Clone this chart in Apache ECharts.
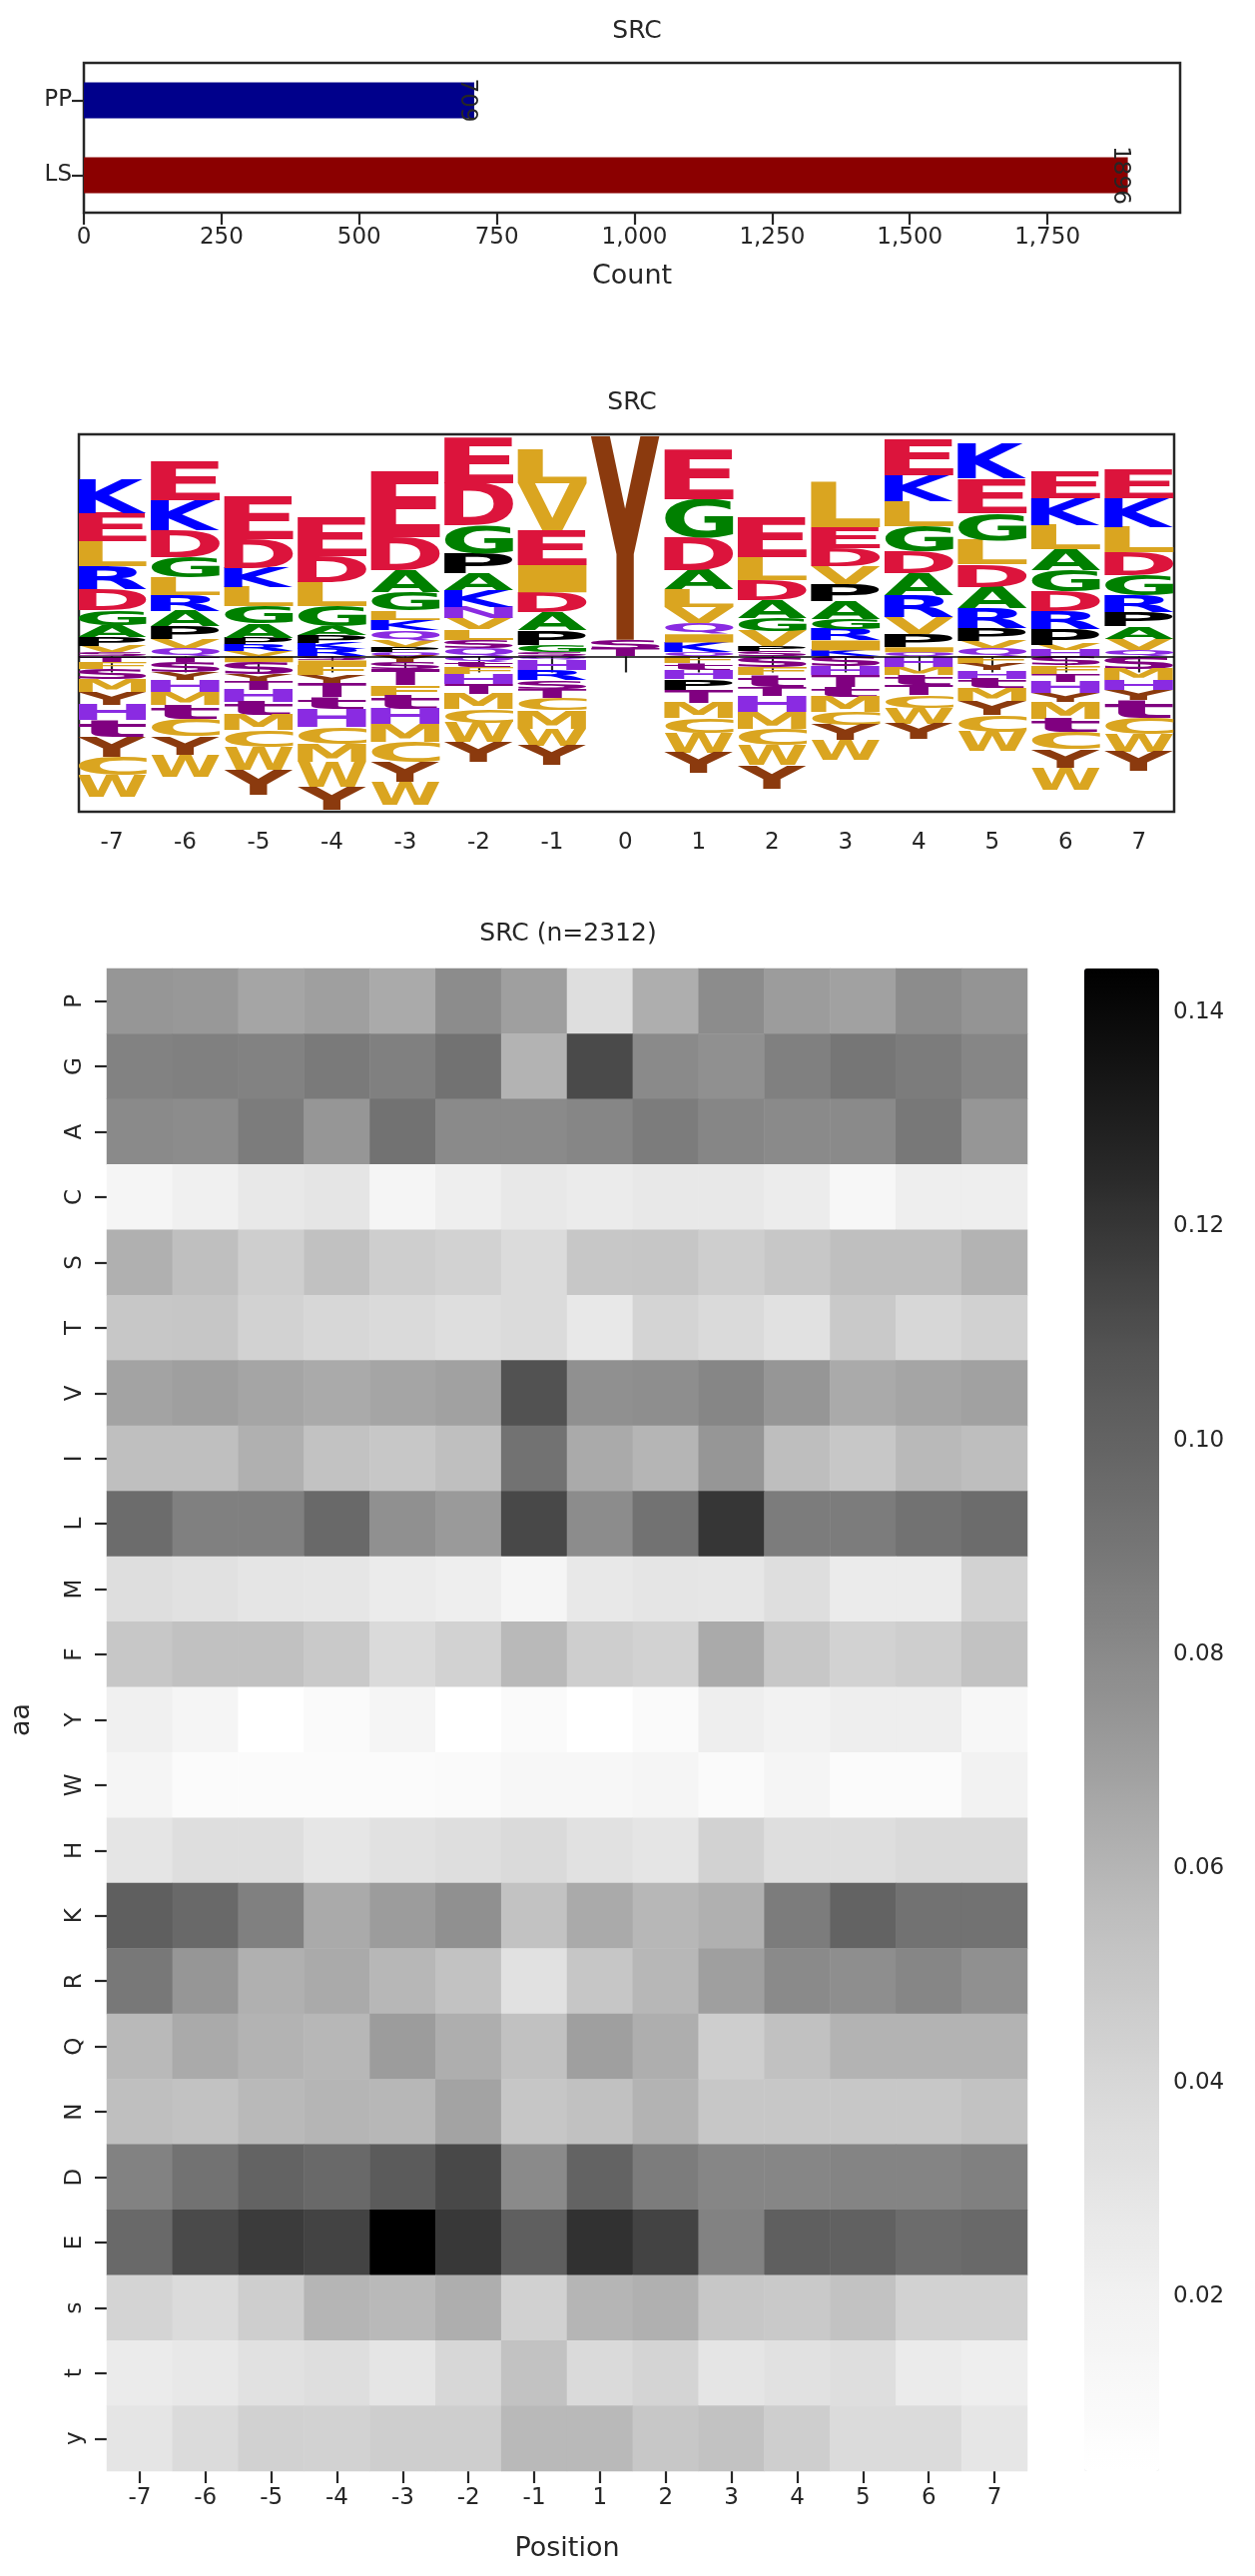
<!DOCTYPE html>
<html><head><meta charset="utf-8">
<script src="https://cdn.jsdelivr.net/npm/echarts@6/dist/echarts.min.js"></script>
<style>html,body{margin:0;padding:0;background:#fff}#c{width:1257px;height:2580px}</style>
</head><body><div id="c"></div>
<script>
// ---------- DATA ----------
const barCats = ['PP', 'LS'];
const barValues = [709, 1896];
const barTicks = [0, 250, 500, 750, 1000, 1250, 1500, 1750];

const logoPositions = [-7, -6, -5, -4, -3, -2, -1, 0, 1, 2, 3, 4, 5, 6, 7];
// letters from the baseline upward, "letter:height"
const logoAbove = [
  'S:.4 V:.67 P:.9 A:1.17 G:1.53 D:2.07 R:2.33 L:2.5 E:2.83 K:3.33',
  'Q:.8 V:.9 P:1.33 A:1.53 R:1.57 L:1.83 G:2.0 D:2.67 K:3.0 E:3.9',
  'V:.5 R:.7 P:.6 A:1.5 G:1.73 L:1.93 K:1.93 D:2.9 E:4.33',
  'R:.77 K:.57 P:.77 A:.9 G:2.03 L:2.4 D:2.6 E:3.9',
  'Q:.43 P:.5 V:.67 Q:1.0 K:1.07 L:.93 G:1.83 A:2.27 D:3.23 E:6.57',
  'Q:.83 S:.83 L:1.07 V:1.17 N:1.1 K:1.67 A:1.67 P:1.93 G:2.9 D:4.23 E:4.6',
  'S:.43 G:.73 P:1.43 A:1.83 D:2.0 I:2.77 E:3.47 V:4.7 L:3.4',
  'T:.77 S:.9 Y:20.43',
  'Q:.4 K:1.0 I:.83 Q:1.17 V:1.57 L:1.77 A:1.9 D:3.27 G:3.9 E:5.0',
  'S:.5 P:.5 V:1.5 G:1.33 A:1.83 D:2.0 L:2.33 E:4.0',
  'K:.6 I:1.0 R:1.1 G:1.07 A:1.77 P:1.67 V:1.83 D:1.83 E:2.1 L:4.5',
  'Q:.43 I:.5 P:1.33 V:1.67 R:2.23 A:2.17 D:2.2 G:2.57 L:2.5 K:2.57 E:3.67',
  'Q:.83 V:.73 P:1.27 R:2.0 A:2.17 D:2.23 L:2.43 G:2.73 E:3.43 K:3.5',
  'H:.6 V:.57 P:1.6 R:1.77 D:1.97 G:2.1 A:2.17 L:2.4 K:2.67 E:2.77',
  'Q:.67 V:1.1 A:1.23 P:1.5 R:1.67 G:2.0 D:2.27 L:2.57 K:2.83 E:2.9'
];
// letters from the baseline downward
const logoBelow = [
  'T:.57 F:.67 S:1.0 M:1.33 Y:1.33 H:1.5 t:1.67 Y:2.0 C:1.83 W:2.17',
  'T:.57 S:1.0 Y:.83 H:1.17 M:1.27 t:1.4 C:1.73 Y:1.87 W:2.23',
  'I:.57 S:1.17 Y:.67 T:.93 H:1.23 t:1.33 M:1.5 C:1.67 W:2.33 Y:2.5',
  'S:.4 I:.5 F:1.0 Y:.77 T:1.4 t:1.17 H:1.83 C:1.67 M:1.83 W:2.5 Y:2.33',
  'Y:.57 S:.67 T:1.6 F:1.07 t:1.33 H:1.5 M:1.83 C:2.0 Y:2.0 W:2.33',
  'Q:.57 t:.5 F:.67 H:1.0 T:1.0 M:1.5 C:1.4 W:1.93 Y:2.0',
  'Q:.33 H:1.07 R:1.0 S:.83 T:.93 C:1.23 M:1.83 W:1.73 Y:1.93',
  '',
  'F:.7 t:.67 H:.93 P:1.07 T:1.27 M:1.57 C:1.43 W:2.0 Y:2.07',
  'S:1.07 F:.83 t:1.17 T:.93 H:1.57 M:1.67 C:1.67 W:2.0 Y:2.33',
  'S:1.0 H:.9 T:1.17 t:1.0 M:1.5 C:1.33 Y:1.5 W:2.0',
  'H:1.07 M:.83 t:1.0 T:1.0 C:1.27 W:1.57 Y:1.5',
  'F:.73 Y:.67 H:.83 t:.93 M:1.33 Y:1.4 C:1.67 W:1.93',
  'S:.9 F:.83 T:.83 H:1.1 Y:.9 M:1.67 t:1.33 C:1.77 Y:1.83 W:2.23',
  'S:1.23 M:1.1 H:1.0 Y:1.07 t:1.77 C:1.57 W:1.83 Y:1.93'
];

const heatX = ['-7','-6','-5','-4','-3','-2','-1','1','2','3','4','5','6','7'];
const heatY = ['P','G','A','C','S','T','V','I','L','M','F','Y','W','H','K','R','Q','N','D','E','s','t','y'];
const heatRows = [
  [.074,.073,.067,.070,.065,.079,.070,.035,.063,.079,.071,.069,.079,.075],
  [.084,.085,.084,.088,.085,.092,.061,.112,.080,.077,.085,.090,.087,.082],
  [.080,.079,.087,.074,.092,.080,.080,.082,.087,.082,.080,.080,.089,.074],
  [.015,.021,.027,.030,.015,.023,.027,.025,.027,.027,.024,.013,.023,.023],
  [.062,.055,.046,.054,.046,.043,.037,.050,.051,.046,.050,.055,.055,.061],
  [.050,.051,.043,.040,.038,.035,.037,.027,.042,.038,.033,.049,.040,.044],
  [.068,.070,.067,.065,.067,.069,.109,.077,.078,.082,.074,.065,.067,.069],
  [.055,.055,.062,.053,.050,.055,.092,.065,.060,.074,.056,.050,.058,.056],
  [.095,.085,.085,.097,.077,.072,.113,.079,.092,.120,.087,.087,.092,.095],
  [.035,.033,.030,.029,.025,.023,.015,.027,.030,.029,.035,.025,.025,.043],
  [.050,.054,.054,.049,.038,.043,.058,.046,.043,.065,.050,.043,.046,.053],
  [.021,.015,.004,.010,.015,.004,.010,.004,.010,.023,.019,.023,.023,.013],
  [.015,.008,.008,.008,.008,.010,.013,.013,.015,.010,.015,.008,.008,.019],
  [.030,.035,.035,.029,.033,.035,.038,.033,.030,.043,.035,.035,.038,.038],
  [.102,.097,.085,.065,.071,.077,.053,.065,.059,.062,.087,.100,.092,.092],
  [.089,.074,.062,.065,.059,.053,.033,.051,.059,.070,.080,.078,.082,.077],
  [.058,.065,.061,.059,.071,.063,.054,.070,.063,.046,.054,.061,.061,.061],
  [.055,.053,.058,.060,.059,.068,.051,.054,.061,.050,.050,.050,.050,.053],
  [.084,.092,.100,.097,.104,.113,.080,.100,.087,.082,.082,.083,.083,.085],
  [.097,.112,.118,.115,.144,.119,.102,.122,.115,.084,.102,.101,.095,.097],
  [.042,.037,.046,.060,.058,.063,.044,.060,.062,.050,.049,.053,.043,.043],
  [.025,.027,.033,.035,.030,.040,.053,.038,.042,.030,.033,.035,.025,.023],
  [.030,.037,.044,.043,.046,.046,.058,.058,.050,.053,.046,.037,.037,.029]
];
const cbTicks = [0.02, 0.04, 0.06, 0.08, 0.10, 0.12, 0.14];
const heatMin = 0.0037, heatMax = 0.1441;

// ---------- BUILD ----------
const FONT = '"DejaVu Sans", sans-serif';
const TXT = '#262626';
const letterColor = L => {
  if ('DE'.includes(L)) return '#DC143C';
  if ('KR'.includes(L)) return '#0000FF';
  if ('GA'.includes(L)) return '#008000';
  if (L === 'P') return '#000000';
  if ('LVIMFWC'.includes(L)) return '#DAA520';
  if (L === 'Y') return '#8B3A0E';
  if ('HQN'.includes(L)) return '#8A2BE2';
  return '#800080'; // S T s t y
};
const mctx = document.createElement('canvas').getContext('2d');
mctx.font = 'bold 100px "DejaVu Sans"';
mctx.textBaseline = 'middle'; mctx.textAlign = 'left';
const metrics = {};
const getM = L => {
  if (!metrics[L]) {
    const t = mctx.measureText(L);
    metrics[L] = {l: t.actualBoundingBoxLeft, r: t.actualBoundingBoxRight, a: t.actualBoundingBoxAscent, d: t.actualBoundingBoxDescent};
  }
  return metrics[L];
};
const letterList = [];
const logoData = [];
function addStack(pos, str, sign) {
  let acc = 0;
  str.split(' ').filter(Boolean).forEach(tok => {
    const [L, h] = tok.split(':'); const hv = parseFloat(h);
    let idx = letterList.indexOf(L); if (idx < 0) { letterList.push(L); idx = letterList.length - 1; }
    const a = acc * sign, b = (acc + hv) * sign;
    logoData.push([pos, Math.min(a, b), Math.max(a, b), idx]);
    acc += hv;
  });
}
logoPositions.forEach((p, i) => { addStack(p, logoAbove[i], 1); addStack(p, logoBelow[i], -1); });

const heatData = [];
heatRows.forEach((row, yi) => row.forEach((v, xi) => heatData.push([xi, yi, v])));

const tickStyle = {show: true, length: 12, lineStyle: {color: '#262626', width: 2.2}};
const lbl = {color: TXT, fontFamily: FONT, fontSize: 23};
const frame = {show: true, borderColor: '#262626', borderWidth: 2.5, backgroundColor: '#fff'};

const chart = echarts.init(document.getElementById('c'), null, {renderer: 'canvas'});
chart.setOption({
  animation: false,
  title: [
    {text: 'SRC', left: 633, top: 14, textAlign: 'center', textStyle: {fontFamily: FONT, fontSize: 25, fontWeight: 'normal', color: TXT}},
    {text: 'SRC', left: 628, top: 386, textAlign: 'center', textStyle: {fontFamily: FONT, fontSize: 25, fontWeight: 'normal', color: TXT}},
    {text: 'SRC (n=2312)', left: 564, top: 918, textAlign: 'center', textStyle: {fontFamily: FONT, fontSize: 25, fontWeight: 'normal', color: TXT}}
  ],
  grid: [
    Object.assign({left: 84, top: 63, width: 1098, height: 150}, frame),
    Object.assign({left: 79, top: 435, width: 1097, height: 378}, frame),
    {left: 100, top: 970, width: 929, height: 1505},
    {left: 1086, top: 970, width: 75, height: 1505}
  ],
  xAxis: [
    {gridIndex: 0, type: 'value', min: 0, max: 1991, name: 'Count', nameLocation: 'middle', nameGap: 50,
      nameTextStyle: {fontFamily: FONT, fontSize: 27, color: TXT},
      axisLine: {show: false}, splitLine: {show: false},
      axisTick: Object.assign({customValues: barTicks}, tickStyle),
      axisLabel: Object.assign({customValues: barTicks, margin: 14}, lbl)},
    {gridIndex: 1, type: 'value', min: -7.45, max: 7.48,
      axisLine: {show: false}, splitLine: {show: false},
      axisTick: Object.assign({customValues: logoPositions}, tickStyle, {length: 16}),
      axisLabel: Object.assign({customValues: logoPositions, margin: 20}, lbl)},
    {gridIndex: 2, type: 'category', data: heatX, name: 'Position', nameLocation: 'middle', nameGap: 64,
      nameTextStyle: {fontFamily: FONT, fontSize: 27, color: TXT},
      axisLine: {show: false}, axisTick: Object.assign({alignWithLabel: true}, tickStyle),
      axisLabel: Object.assign({margin: 16}, lbl)},
    {gridIndex: 3, type: 'value', show: false, min: 0, max: 1}
  ],
  yAxis: [
    {gridIndex: 0, type: 'category', data: barCats, inverse: true,
      axisLine: {show: false}, axisTick: Object.assign({alignWithLabel: true}, tickStyle), axisLabel: Object.assign({margin: 12}, lbl)},
    {gridIndex: 1, type: 'value', min: -15.57, max: 22.27, show: false},
    {gridIndex: 2, type: 'category', data: heatY, inverse: true, name: 'aa', nameLocation: 'middle', nameGap: 72, nameRotate: 90,
      nameTextStyle: {fontFamily: FONT, fontSize: 27, color: TXT},
      axisLine: {show: false}, axisTick: Object.assign({alignWithLabel: true}, tickStyle),
      axisLabel: Object.assign({rotate: 90, margin: 20}, lbl)},
    {gridIndex: 3, type: 'value', position: 'right', min: heatMin, max: heatMax,
      axisLine: {show: false}, splitLine: {show: false},
      axisTick: Object.assign({customValues: cbTicks}, tickStyle),
      axisLabel: Object.assign({customValues: cbTicks, margin: 14, formatter: v => v.toFixed(2)}, lbl)}
  ],
  visualMap: {
    type: 'continuous', seriesIndex: 2, min: heatMin, max: heatMax, calculable: false, showLabel: false,
    text: null, left: 1086, top: 970, itemWidth: 75, itemHeight: 1505, padding: 0,
    inRange: {color: ['#ffffff', '#f0f0f0', '#d9d9d9', '#bdbdbd', '#969696', '#737373', '#525252', '#252525', '#000000']}
  },
  series: [
    {type: 'bar', xAxisIndex: 0, yAxisIndex: 0, barWidth: 36,
      data: barValues.map((v, i) => ({value: v, itemStyle: {color: i === 0 ? '#00008B' : '#8B0000'}})),
      label: {show: true, position: 'right', rotate: -90, distance: 4, align: 'center', verticalAlign: 'top',
        fontFamily: FONT, fontSize: 23, color: TXT}},
    {type: 'custom', xAxisIndex: 1, yAxisIndex: 1, data: logoData, clip: true,
      renderItem: function (params, api) {
        const x = api.value(0), y0 = api.value(1), y1 = api.value(2);
        const L = letterList[api.value(3)];
        const m = getM(L);
        const p0 = api.coord([x - 0.47, y1]), p1 = api.coord([x + 0.47, y0]);
        const w = p1[0] - p0[0], h = p1[1] - p0[1];
        const sx = w / (m.l + m.r), sy = h / (m.a + m.d);
        return {type: 'text', x: p0[0] + m.l * sx, y: p0[1] + m.a * sy, scaleX: sx, scaleY: sy,
          style: {text: L, fontSize: 100, fontFamily: 'DejaVu Sans', fontWeight: 'bold', fill: letterColor(L), align: 'left', verticalAlign: 'middle'}};
      },
      markLine: {silent: true, symbol: 'none', label: {show: false}, lineStyle: {color: '#000', width: 1.5, type: 'solid'}, data: [{yAxis: 0}]}
    },
    {type: 'heatmap', xAxisIndex: 2, yAxisIndex: 2, data: heatData, itemStyle: {borderWidth: 0}}
  ]
});
</script></body></html>
